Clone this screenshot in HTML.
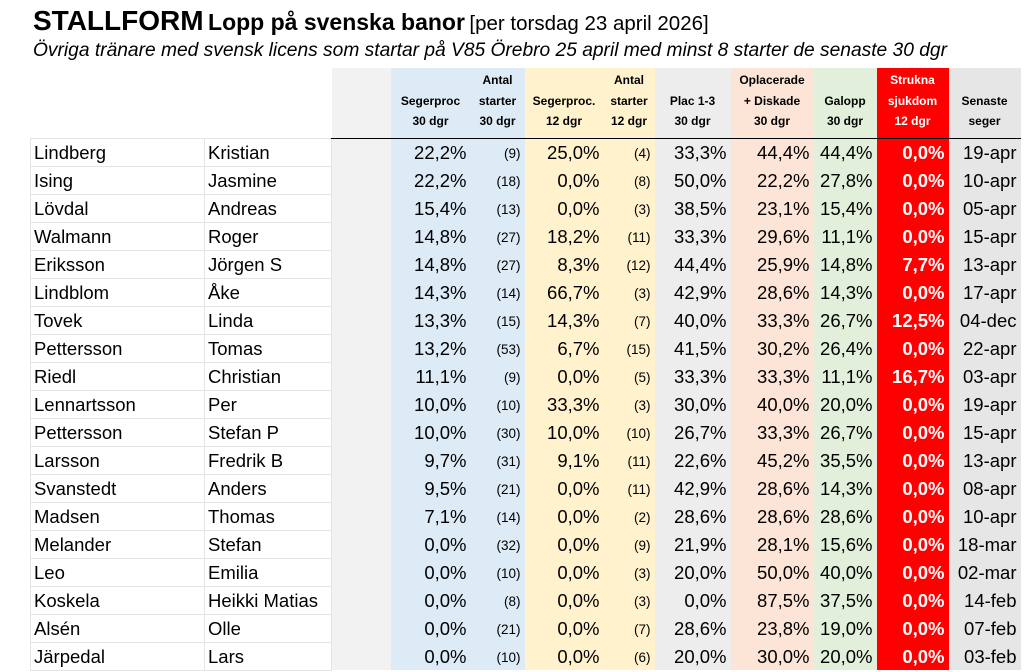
<!DOCTYPE html>
<html><head><meta charset="utf-8"><style>
body{margin:0;width:1024px;height:672px;background:#fff;font-family:"Liberation Sans",sans-serif;position:relative;overflow:hidden}
.t1{position:absolute;left:33px;top:5px;white-space:nowrap;color:#000}
.t1 b.a{font-size:28px}.t1 b.b{font-size:23px}.t1 span{font-size:20.5px}
.t2{position:absolute;left:33px;top:40px;font-style:italic;font-size:19.2px;white-space:nowrap}
table{position:absolute;left:30px;top:68px;border-collapse:collapse;table-layout:fixed}
td{padding:0 4px 0 0;height:28px;font-size:18.5px;text-align:right;white-space:nowrap;overflow:hidden;box-sizing:border-box;padding-top:2px}
tr.h td{height:70px;font-size:12px;font-weight:bold;text-align:center;vertical-align:bottom;padding:0 0 6px 0;line-height:20.5px;border-bottom:1.5px solid #000}
tr.h td.n{border:none;background:#fff}
td.n{text-align:left;padding-left:3px;border:1px solid #e4e4e4;background:#fff}
td.g0{background:#f2f2f2}
td:nth-child(4),td:nth-child(5){background:#ddebf7}
td:nth-child(6),td:nth-child(7){background:#fff2cc}
td:nth-child(8){background:#ededed}
td:nth-child(9){background:#fce4d6}
td:nth-child(10){background:#e2efda}
td:nth-child(11){background:#ff0000;color:#fff;font-weight:bold}
td:nth-child(12){background:#e7e6e6}
td.c{font-size:13.5px}
tr.h td:nth-child(11){color:#fff}
</style></head><body>
<div class="t1"><b class="a">STALLFORM</b> <b class="b">Lopp på svenska banor</b> <span>[per torsdag 23 april 2026]</span></div>
<div class="t2">Övriga tränare med svensk licens som startar på V85 Örebro 25 april med minst 8 starter de senaste 30 dgr</div>
<table>
<colgroup><col style="width:174px"><col style="width:127px"><col style="width:59px"><col style="width:80px"><col style="width:54px"><col style="width:79px"><col style="width:51px"><col style="width:76px"><col style="width:83px"><col style="width:63px"><col style="width:72px"><col style="width:72px"></colgroup>
<tr class="h"><td class="n"></td><td class="n"></td><td class="g0"></td><td>Segerproc<br>30 dgr</td><td>Antal<br>starter<br>30 dgr</td><td>Segerproc.<br>12 dgr</td><td>Antal<br>starter<br>12 dgr</td><td>Plac 1-3<br>30 dgr</td><td>Oplacerade<br>+ Diskade<br>30 dgr</td><td>Galopp<br>30 dgr</td><td>Strukna<br>sjukdom<br>12 dgr</td><td>Senaste<br>seger</td></tr>
<tr><td class="n">Lindberg</td><td class="n">Kristian</td><td class="g0"></td><td>22,2%</td><td class="c">(9)</td><td>25,0%</td><td class="c">(4)</td><td>33,3%</td><td>44,4%</td><td>44,4%</td><td>0,0%</td><td>19-apr</td></tr>
<tr><td class="n">Ising</td><td class="n">Jasmine</td><td class="g0"></td><td>22,2%</td><td class="c">(18)</td><td>0,0%</td><td class="c">(8)</td><td>50,0%</td><td>22,2%</td><td>27,8%</td><td>0,0%</td><td>10-apr</td></tr>
<tr><td class="n">Lövdal</td><td class="n">Andreas</td><td class="g0"></td><td>15,4%</td><td class="c">(13)</td><td>0,0%</td><td class="c">(3)</td><td>38,5%</td><td>23,1%</td><td>15,4%</td><td>0,0%</td><td>05-apr</td></tr>
<tr><td class="n">Walmann</td><td class="n">Roger</td><td class="g0"></td><td>14,8%</td><td class="c">(27)</td><td>18,2%</td><td class="c">(11)</td><td>33,3%</td><td>29,6%</td><td>11,1%</td><td>0,0%</td><td>15-apr</td></tr>
<tr><td class="n">Eriksson</td><td class="n">Jörgen S</td><td class="g0"></td><td>14,8%</td><td class="c">(27)</td><td>8,3%</td><td class="c">(12)</td><td>44,4%</td><td>25,9%</td><td>14,8%</td><td>7,7%</td><td>13-apr</td></tr>
<tr><td class="n">Lindblom</td><td class="n">Åke</td><td class="g0"></td><td>14,3%</td><td class="c">(14)</td><td>66,7%</td><td class="c">(3)</td><td>42,9%</td><td>28,6%</td><td>14,3%</td><td>0,0%</td><td>17-apr</td></tr>
<tr><td class="n">Tovek</td><td class="n">Linda</td><td class="g0"></td><td>13,3%</td><td class="c">(15)</td><td>14,3%</td><td class="c">(7)</td><td>40,0%</td><td>33,3%</td><td>26,7%</td><td>12,5%</td><td>04-dec</td></tr>
<tr><td class="n">Pettersson</td><td class="n">Tomas</td><td class="g0"></td><td>13,2%</td><td class="c">(53)</td><td>6,7%</td><td class="c">(15)</td><td>41,5%</td><td>30,2%</td><td>26,4%</td><td>0,0%</td><td>22-apr</td></tr>
<tr><td class="n">Riedl</td><td class="n">Christian</td><td class="g0"></td><td>11,1%</td><td class="c">(9)</td><td>0,0%</td><td class="c">(5)</td><td>33,3%</td><td>33,3%</td><td>11,1%</td><td>16,7%</td><td>03-apr</td></tr>
<tr><td class="n">Lennartsson</td><td class="n">Per</td><td class="g0"></td><td>10,0%</td><td class="c">(10)</td><td>33,3%</td><td class="c">(3)</td><td>30,0%</td><td>40,0%</td><td>20,0%</td><td>0,0%</td><td>19-apr</td></tr>
<tr><td class="n">Pettersson</td><td class="n">Stefan P</td><td class="g0"></td><td>10,0%</td><td class="c">(30)</td><td>10,0%</td><td class="c">(10)</td><td>26,7%</td><td>33,3%</td><td>26,7%</td><td>0,0%</td><td>15-apr</td></tr>
<tr><td class="n">Larsson</td><td class="n">Fredrik B</td><td class="g0"></td><td>9,7%</td><td class="c">(31)</td><td>9,1%</td><td class="c">(11)</td><td>22,6%</td><td>45,2%</td><td>35,5%</td><td>0,0%</td><td>13-apr</td></tr>
<tr><td class="n">Svanstedt</td><td class="n">Anders</td><td class="g0"></td><td>9,5%</td><td class="c">(21)</td><td>0,0%</td><td class="c">(11)</td><td>42,9%</td><td>28,6%</td><td>14,3%</td><td>0,0%</td><td>08-apr</td></tr>
<tr><td class="n">Madsen</td><td class="n">Thomas</td><td class="g0"></td><td>7,1%</td><td class="c">(14)</td><td>0,0%</td><td class="c">(2)</td><td>28,6%</td><td>28,6%</td><td>28,6%</td><td>0,0%</td><td>10-apr</td></tr>
<tr><td class="n">Melander</td><td class="n">Stefan</td><td class="g0"></td><td>0,0%</td><td class="c">(32)</td><td>0,0%</td><td class="c">(9)</td><td>21,9%</td><td>28,1%</td><td>15,6%</td><td>0,0%</td><td>18-mar</td></tr>
<tr><td class="n">Leo</td><td class="n">Emilia</td><td class="g0"></td><td>0,0%</td><td class="c">(10)</td><td>0,0%</td><td class="c">(3)</td><td>20,0%</td><td>50,0%</td><td>40,0%</td><td>0,0%</td><td>02-mar</td></tr>
<tr><td class="n">Koskela</td><td class="n">Heikki Matias</td><td class="g0"></td><td>0,0%</td><td class="c">(8)</td><td>0,0%</td><td class="c">(3)</td><td>0,0%</td><td>87,5%</td><td>37,5%</td><td>0,0%</td><td>14-feb</td></tr>
<tr><td class="n">Alsén</td><td class="n">Olle</td><td class="g0"></td><td>0,0%</td><td class="c">(21)</td><td>0,0%</td><td class="c">(7)</td><td>28,6%</td><td>23,8%</td><td>19,0%</td><td>0,0%</td><td>07-feb</td></tr>
<tr><td class="n">Järpedal</td><td class="n">Lars</td><td class="g0"></td><td>0,0%</td><td class="c">(10)</td><td>0,0%</td><td class="c">(6)</td><td>20,0%</td><td>30,0%</td><td>20,0%</td><td>0,0%</td><td>03-feb</td></tr>
</table>
</body></html>
